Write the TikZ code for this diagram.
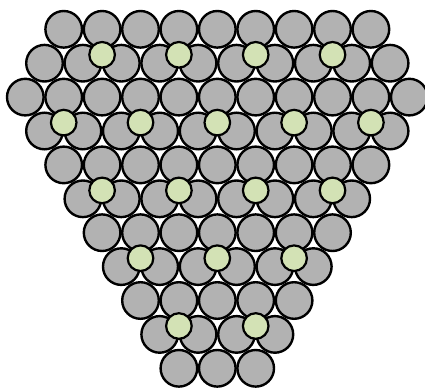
\documentclass[tikz,border=0pt]{standalone}
\definecolor{atomgray}{RGB}{178,178,178}
\definecolor{adsgreen}{RGB}{211,226,181}
\begin{document}
\begin{tikzpicture}[x=1pt,y=-1pt,
  atom/.style={draw=black,line width=2.4pt,fill=atomgray},
  ads/.style={draw=black,line width=2.2pt,fill=adsgreen}]
\useasboundingbox (0,0) rectangle (425,388);
\def\dx{38.4}\def\dy{33.9}\def\cx{217.3}\def\ytop{29.3}
\foreach \r/\n in {1/9,2/10,3/11,4/10,5/9,6/8,7/7,8/6,9/5,10/4,11/3}{
  \foreach \i in {1,...,\n}{
    \pgfmathsetmacro{\xx}{\cx+(\i-(\n+1)/2)*\dx}
    \pgfmathsetmacro{\yy}{\ytop+(\r-1)*\dy}
    \draw[atom] (\xx,\yy) circle[radius=18.3];
  }
}
\foreach \r/\n in {1/9,3/11,5/9,7/7,9/5}{
  \foreach \i in {2,4,...,\n}{
    \pgfmathsetmacro{\xx}{\cx+(\i-(\n+1)/2)*\dx}
    \pgfmathsetmacro{\yy}{\ytop+(\r-1)*\dy+25.5}
    \draw[ads] (\xx,\yy) circle[radius=12.8];
  }
}
\end{tikzpicture}
\end{document}
